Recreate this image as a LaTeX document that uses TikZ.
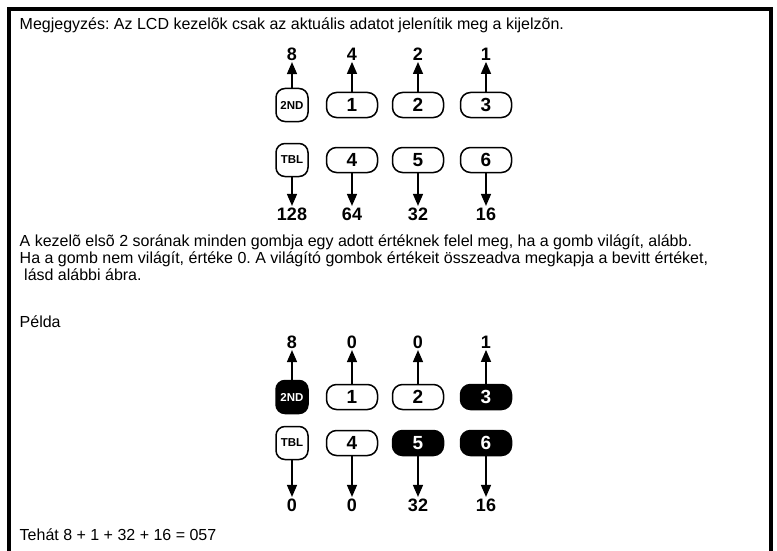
\documentclass[tikz,border=0pt]{standalone}
\usepackage{fontspec}
\setmainfont{Liberation Sans}
\usetikzlibrary{arrows.meta}
\frenchspacing

\begin{document}
\begin{tikzpicture}[x=1pt, y=-1pt,
                txt/.style = {anchor=base west, inner sep=0pt, font=\fontsize{16}{17}\selectfont},
                num/.style = {inner sep=1.5pt, font=\bfseries\fontsize{18}{18}\selectfont},
                key/.style = {draw, line width=1.5pt, rounded corners=10pt, minimum width=51pt, minimum height=25pt, inner sep=0pt, font=\bfseries\fontsize{19}{19}\selectfont},
                fkey/.style = {draw, line width=1.5pt, rounded corners=9pt, minimum width=32pt, minimum height=33pt, inner sep=0pt, font=\bfseries\fontsize{11.5}{11.5}\selectfont},
                lit/.style = {fill=black, text=white},
                arr/.style = {draw, line width=1.5pt, -{Triangle[width=10pt, length=12pt]}},
            ]
            \useasboundingbox (0,0) rectangle (777,551);
            \draw[line width=4pt] (9,551) -- (9,9.5) -- (770.5,9.5) -- (770.5,551);

            \node (note) [txt] at (19.5,30) {Megjegyzés: Az LCD kezelõk csak az aktuális adatot jelenítik meg a kijelzõn.};

            % first panel
            \node (v8) [num] at (292,54) {8};
            \node (v4) [num] at (352,54) {4};
            \node (v2) [num] at (418,54) {2};
            \node (v1) [num] at (486,54) {1};

            \node (snd) [fkey] at (292,105) {2ND};
            \node (k1) [key] at (352,105) {1};
            \node (k2) [key] at (418,105) {2};
            \node (k3) [key] at (486,105) {3};

            \node (tbl) [fkey] at (292,160) {TBL};
            \node (k4) [key] at (352,160) {4};
            \node (k5) [key] at (418,160) {5};
            \node (k6) [key] at (486,160) {6};

            \node (v128) [num] at (292,214) {128};
            \node (v64) [num] at (352,214) {64};
            \node (v32) [num] at (418,214) {32};
            \node (v16) [num] at (486,214) {16};

            \path[arr] (snd) -- (v8);
            \path[arr] (k1) -- (v4);
            \path[arr] (k2) -- (v2);
            \path[arr] (k3) -- (v1);
            \path[arr] (tbl) -- (v128);
            \path[arr] (k4) -- (v64);
            \path[arr] (k5) -- (v32);
            \path[arr] (k6) -- (v16);

            \node (par1) [txt] at (19.5,246) {A kezelõ elsõ 2 sorának minden gombja egy adott értéknek felel meg, ha a gomb világít, alább.};
            \node (par2) [txt] at (19.5,263) {Ha a gomb nem világít, értéke 0. A világító gombok értékeit összeadva megkapja a bevitt értéket,};
            \node (par3) [txt] at (24,280) {lásd alábbi ábra.};

            \node (ex) [txt] at (19.5,327) {Példa};

            % example panel
            \node (e8) [num] at (292,342) {8};
            \node (e4) [num] at (352,342) {0};
            \node (e2) [num] at (418,342) {0};
            \node (e1) [num] at (486,342) {1};

            \node (esnd) [fkey, lit] at (292,397) {2ND};
            \node (ek1) [key] at (352,397) {1};
            \node (ek2) [key] at (418,397) {2};
            \node (ek3) [key, lit] at (486,397) {3};

            \node (etbl) [fkey] at (292,443) {TBL};
            \node (ek4) [key] at (352,443) {4};
            \node (ek5) [key, lit] at (418,443) {5};
            \node (ek6) [key, lit] at (486,443) {6};

            \node (e128) [num] at (292,505) {0};
            \node (e64) [num] at (352,505) {0};
            \node (e32) [num] at (418,505) {32};
            \node (e16) [num] at (486,505) {16};

            \path[arr] (esnd) -- (e8);
            \path[arr] (ek1) -- (e4);
            \path[arr] (ek2) -- (e2);
            \path[arr] (ek3) -- (e1);
            \path[arr] (etbl) -- (e128);
            \path[arr] (ek4) -- (e64);
            \path[arr] (ek5) -- (e32);
            \path[arr] (ek6) -- (e16);

            \node (sum) [txt] at (19.5,540) {Tehát 8 + 1 + 32 + 16 = 057};
        \end{tikzpicture}
\end{document}
